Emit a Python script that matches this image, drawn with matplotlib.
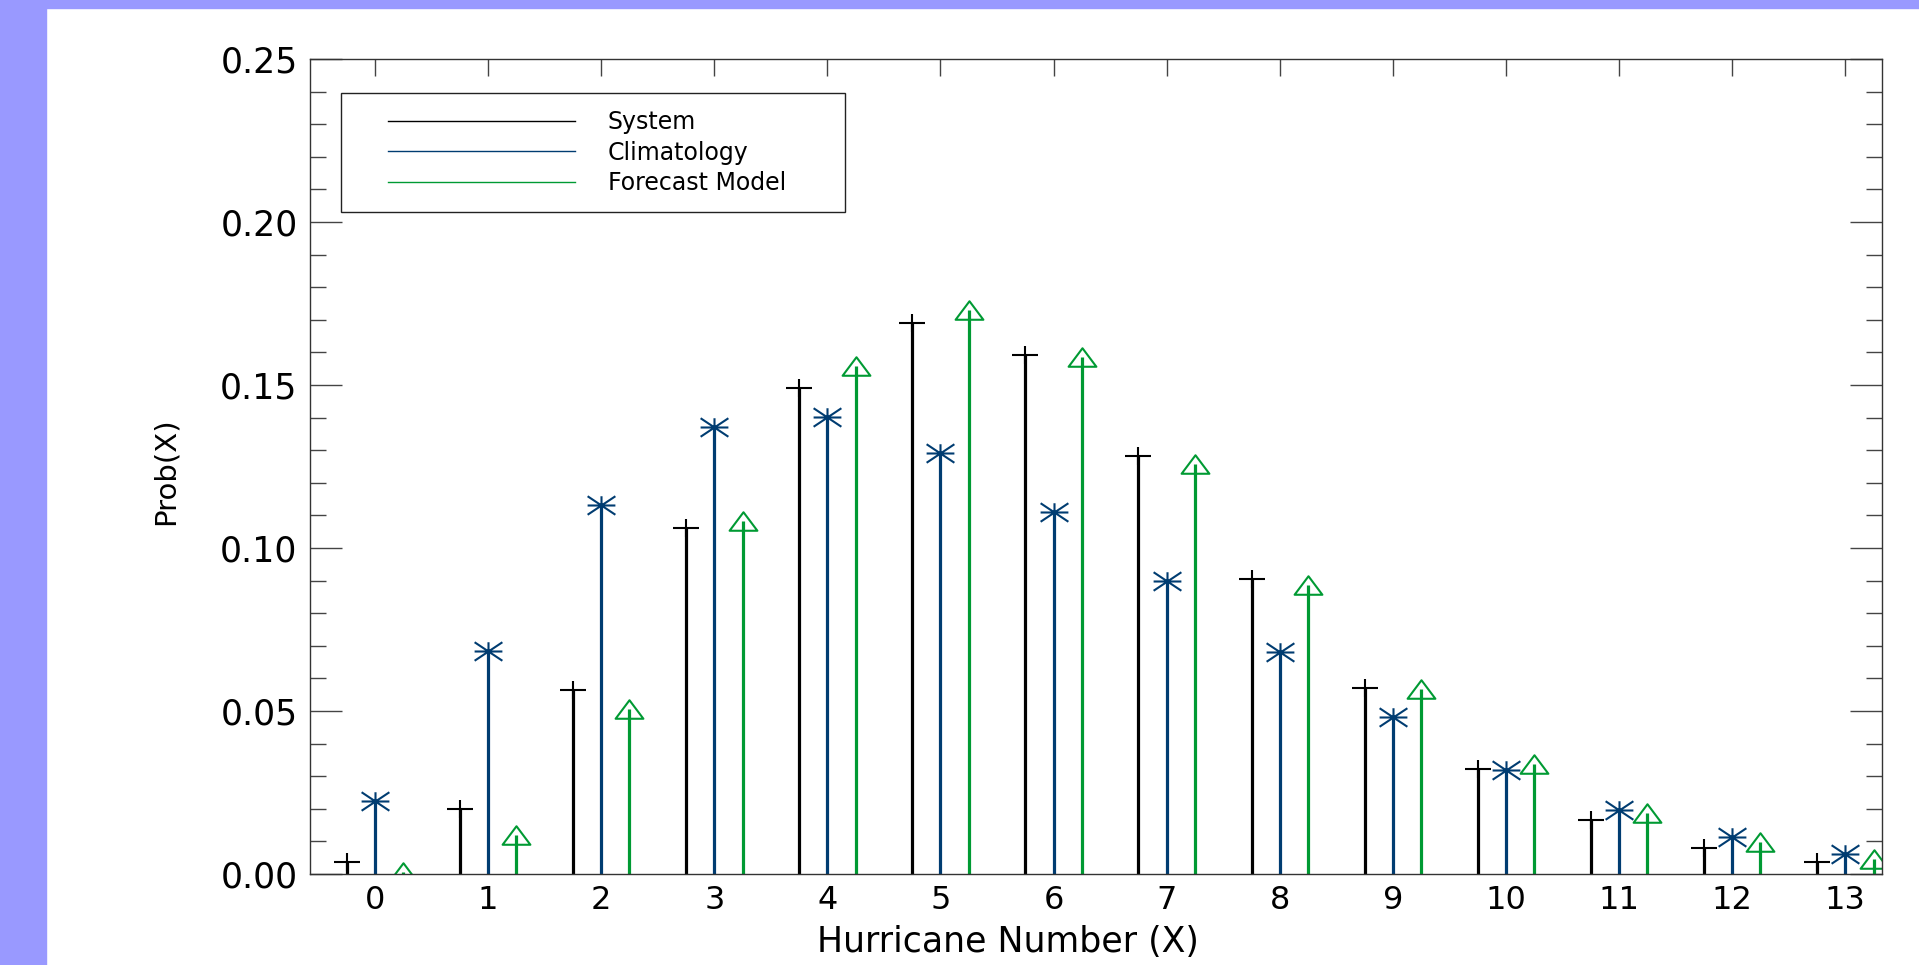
import numpy as np
import matplotlib.pyplot as plt
from matplotlib.path import Path
from matplotlib.lines import Line2D
from matplotlib.patches import Rectangle

plt.rcParams['font.family'] = ['DejaVu Sans']

# hurricane counts and probabilities
hurricanes = np.arange(14)
system = [0.0038, 0.0200, 0.0564, 0.1061, 0.1492, 0.1691, 0.1591,
          0.1281, 0.0906, 0.0570, 0.0323, 0.0166, 0.0079, 0.0036]
climatology = [0.0224, 0.0684, 0.1131, 0.1371, 0.1401, 0.1290, 0.1110,
               0.0900, 0.0682, 0.0483, 0.0318, 0.0195, 0.0113, 0.0060]
forecast = [0.0006, 0.0121, 0.0507, 0.1082, 0.1558, 0.1729, 0.1585,
            0.1257, 0.0887, 0.0568, 0.0336, 0.0186, 0.0097, 0.0047]
series_names = ['System', 'Climatology', 'Forecast Model']
yticks = [0.00, 0.05, 0.10, 0.15, 0.20, 0.25]

col_sys = 'black'
col_clim = '#003c71'
col_fc = '#009a33'

# wide markers (the original picture is stretched sideways)
plus_m = Path([(-1.5, 0), (1.5, 0), (0, -1), (0, 1)],
              [Path.MOVETO, Path.LINETO, Path.MOVETO, Path.LINETO])
star_m = Path([(-1.5, 0), (1.5, 0), (0, -1), (0, 1),
               (-1.5, -1), (1.5, 1), (-1.5, 1), (1.5, -1)],
              [Path.MOVETO, Path.LINETO] * 4)
tri_m = Path([(0, 1), (-1.5, -1), (1.5, -1), (0, 1)],
             [Path.MOVETO, Path.LINETO, Path.LINETO, Path.CLOSEPOLY])

fig = plt.figure(figsize=(19.19, 9.65), dpi=100)
fig.add_artist(Rectangle((0, 0), 46 / 1919, 1, transform=fig.transFigure,
                         color='#9999ff', zorder=0))
fig.add_artist(Rectangle((0, 1 - 8 / 965), 1, 8 / 965, transform=fig.transFigure,
                         color='#9999ff', zorder=0))

ax = fig.add_axes([310 / 1919, 1 - 874 / 965, 1572 / 1919, 815 / 965])

offs = 0.25
ax.vlines(hurricanes - offs, 0, system, color=col_sys, lw=2.3)
ax.plot(hurricanes - offs, system, ls='none', marker=plus_m, ms=19,
        mfc='none', mec=col_sys, mew=1.5)
ax.vlines(hurricanes, 0, climatology, color=col_clim, lw=2.3)
ax.plot(hurricanes, climatology, ls='none', marker=star_m, ms=20,
        mfc='none', mec=col_clim, mew=1.5)
ax.vlines(hurricanes + offs, 0, forecast, color=col_fc, lw=2.3)
ax.plot(hurricanes + offs, forecast, ls='none', marker=tri_m, ms=20,
        mfc='none', mec=col_fc, mew=1.5)

ax.set_xlim(-0.575, 13.325)
ax.set_ylim(0, 0.25)
ax.set_xticks(hurricanes)
ax.set_yticks(yticks)
ax.set_yticks(np.arange(0, 0.2501, 0.01), minor=True)
ax.set_yticklabels(['%.2f' % v for v in yticks])

ax.tick_params(axis='y', which='major', direction='in', length=23, width=1,
               color='#444444', left=True, right=True, labelsize=25, pad=9)
ax.tick_params(axis='y', which='minor', direction='in', length=11.5, width=1,
               color='#444444', left=True, right=True)
ax.tick_params(axis='x', which='major', direction='in', length=12, width=1,
               color='#444444', top=True, bottom=True, labelsize=23, pad=8)
for s in ax.spines.values():
    s.set_color('#333333')
    s.set_linewidth(1.0)

ax.set_xlabel('Hurricane Number (X)', fontsize=25, va='center')
ax.xaxis.set_label_coords(0.444, (874 - 942) / 815)
ax.set_ylabel('Prob(X)', fontsize=21)
ax.yaxis.set_label_coords(-0.083, 0.494)

handles = [Line2D([], [], color=c, lw=1.0) for c in (col_sys, col_clim, col_fc)]
ax.legend(handles, series_names, loc='center left', frameon=False,
          bbox_to_anchor=((388 - 310) / 1572, (874 - 152.7) / 815),
          borderpad=0, borderaxespad=0, fontsize=17, handlelength=7.9,
          handletextpad=1.4, labelspacing=0.28)
ax.add_patch(Rectangle(((341 - 310) / 1572, (874 - 212) / 815), 504 / 1572,
                       119 / 815, transform=ax.transAxes, fill=False,
                       ec='#222222', lw=1.0, zorder=5))

fig.savefig('out.png', dpi=100, facecolor='white')
